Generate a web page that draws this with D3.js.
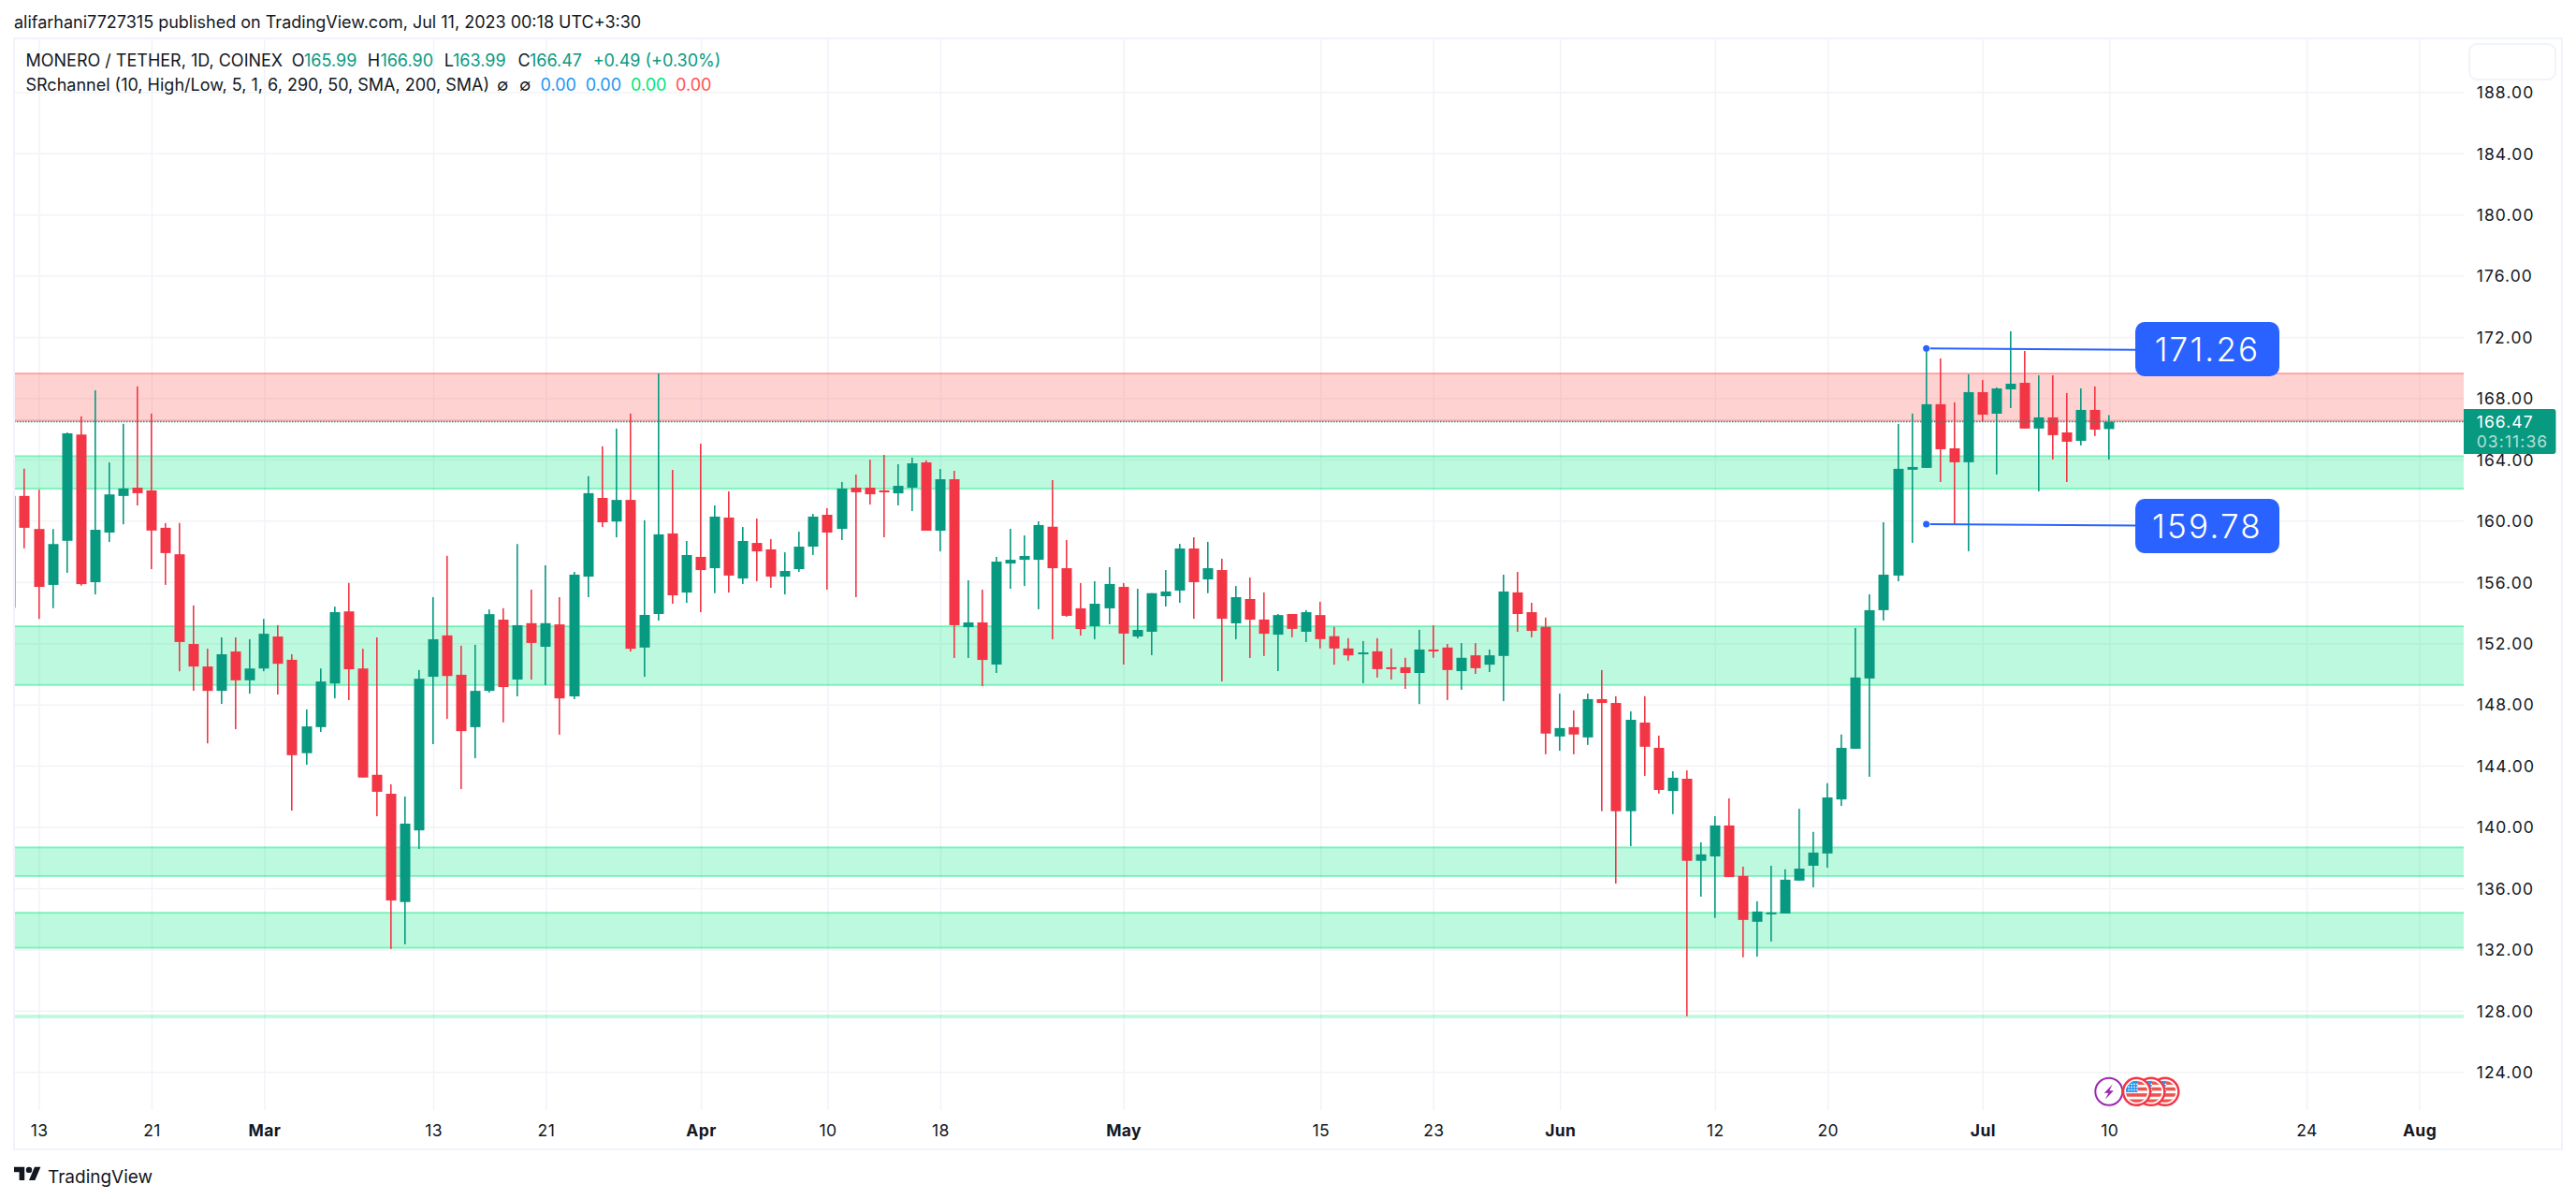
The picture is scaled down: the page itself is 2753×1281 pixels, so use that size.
<!DOCTYPE html>
<html>
<head>
<meta charset="utf-8">
<style>
html, body { margin: 0; padding: 0; background: #fff; }
svg { display: block; font-family: Inter, "Noto Sans", sans-serif; }
text { fill: #131722; }
</style>
<script src="https://cdn.jsdelivr.net/npm/d3@7"></script>
</head>
<body>
<svg id="chart" width="2753" height="1281"></svg>
<script>
// daily candles, one row per month, starting from firstDay
const firstDay = "2023-02-11";

const opens = [
    154.31,161.62,159.46,155.81,158.69,165.63,155.99,159.23,161.62,162.16,161.98,159.54,157.81,151.95,150.48,148.89,151.46,149.58,
    150.35,152.44,150.92,144.82,146.52,149.37,154.08,150.35,143.41,142.17,135.10,139.78,149.81,152.51,149.94,146.52,148.89,153.54,149.63,153.31,151.77,153.23,148.53,156.35,161.49,159.95,161.36,151.72,153.91,159.17,155.31,
    157.64,156.90,160.21,156.23,158.55,158.13,156.35,156.84,158.31,160.39,159.47,162.16,162.16,161.98,161.79,162.16,163.81,159.35,162.71,153.05,153.36,150.61,157.21,157.45,157.45,159.61,156.90,154.28,153.11,154.28,
    155.68,152.44,152.75,155.07,155.44,158.19,156.17,156.78,153.30,154.89,153.55,152.56,153.91,152.75,153.84,152.46,151.66,151.28,151.47,150.43,150.43,150.06,151.59,151.72,150.18,151.21,150.60,151.17,155.32,154.03,153.07,
    145.91,146.52,145.85,148.35,148.10,141.03,146.82,145.17,142.35,143.15,137.79,138.08,140.10,136.80,133.81,134.35,134.35,136.50,137.47,138.27,141.80,145.11,149.70,154.16,156.42,163.33,163.45,167.61,164.73,163.82,
    168.40,166.99,168.58,169.01,166.02,166.75,165.77,165.22,167.24,165.99
];
const highs = [
    161.62,163.40,162.03,159.46,165.76,166.82,168.52,163.81,166.33,168.77,167.00,159.85,159.85,154.47,151.64,152.38,152.38,152.26,
    153.59,153.18,151.28,147.68,150.35,154.39,155.94,151.64,152.38,142.79,141.99,150.25,155.01,157.71,151.84,151.90,154.21,154.29,158.48,155.50,157.09,155.01,156.66,162.91,164.86,166.02,167.00,160.03,169.62,163.32,158.68,
    165.03,161.00,161.92,159.59,160.14,158.80,157.94,159.29,160.45,160.82,162.53,163.02,163.99,164.30,163.69,164.12,163.94,163.38,163.26,156.11,155.50,157.64,159.47,159.04,159.96,162.65,158.74,155.93,156.05,156.97,
    155.93,155.56,155.27,156.78,158.49,158.92,158.62,157.52,155.74,156.29,155.32,153.91,153.91,154.16,154.71,153.07,152.33,152.14,152.33,151.66,151.05,152.88,153.17,151.95,152.01,152.01,151.59,156.48,156.66,154.64,153.68,
    148.71,147.61,148.71,150.25,148.54,147.55,148.54,145.97,143.64,143.70,139.00,140.71,141.87,137.41,135.15,137.47,137.24,141.19,139.68,142.86,146.04,153.00,155.20,159.90,166.32,167.00,171.27,170.60,167.73,169.56,
    169.19,168.71,172.37,171.09,169.50,169.50,168.34,168.64,168.77,166.90
];
const lows = [
    154.31,158.20,153.59,154.29,156.60,155.76,155.19,158.61,159.77,161.00,156.84,155.81,150.17,148.89,145.46,148.04,146.39,148.71,
    150.17,148.65,141.07,144.07,146.21,148.40,148.29,143.23,140.70,132.03,132.34,138.57,145.41,147.06,142.48,144.49,148.78,146.83,148.53,149.63,149.27,146.03,148.35,155.01,159.59,158.92,151.46,149.81,153.48,154.58,154.64,
    154.03,155.27,155.31,155.87,156.05,155.62,155.19,156.66,157.76,155.50,158.74,155.01,161.06,158.92,161.00,160.63,159.35,158.00,151.04,151.04,149.20,150.06,155.56,155.74,154.22,152.26,153.73,152.50,152.26,153.24,
    150.61,152.32,151.22,154.40,154.64,153.60,155.27,149.51,152.26,151.04,151.17,150.18,152.39,152.08,151.66,150.60,150.86,149.38,149.76,149.63,149.02,148.03,151.05,148.29,148.96,150.00,150.12,148.22,152.75,152.39,144.75,
    144.98,144.75,145.36,141.03,136.31,138.75,143.34,142.18,140.84,127.64,135.45,134.06,136.73,131.49,131.53,132.52,134.35,136.50,136.06,137.34,141.38,145.11,143.28,153.49,156.05,158.56,163.45,162.53,159.78,158.01,
    166.49,163.02,167.36,166.02,161.92,164.00,162.53,164.92,165.53,163.99
];
const closes = [
    161.62,159.54,155.68,158.48,165.71,155.86,159.41,161.72,162.11,161.80,159.36,157.89,152.08,150.48,148.89,151.28,149.58,150.35,
    152.62,150.66,144.69,146.57,149.50,154.03,150.30,143.23,142.30,135.20,140.22,149.68,152.26,149.86,146.26,148.89,153.90,149.14,153.18,152.02,153.31,148.40,156.48,161.80,159.90,161.36,151.64,153.85,159.11,155.13,157.76,
    156.78,160.27,156.42,158.68,158.00,156.35,156.72,158.31,160.27,159.23,162.10,161.86,161.73,161.86,162.28,163.75,159.35,162.71,153.18,153.36,150.91,157.33,157.45,157.70,159.72,156.90,153.79,152.93,154.58,155.87,
    152.63,152.87,155.27,155.38,158.19,155.99,156.90,153.60,155.01,153.54,152.62,153.84,152.94,154.03,152.27,151.66,151.21,151.40,150.31,150.31,150.06,151.59,151.53,150.25,151.05,150.37,151.21,155.38,153.91,152.81,146.10,
    146.46,146.04,148.35,148.10,141.03,147.00,145.24,142.42,143.22,137.79,138.21,140.10,136.73,133.93,134.48,134.42,136.56,137.28,138.33,141.93,145.17,149.76,154.16,156.48,163.39,163.51,167.61,164.67,163.82,168.40,
    166.93,168.64,168.95,166.02,166.75,165.59,165.16,167.24,165.95,166.47
];

// SR channel boxes
const zoneTops = [169.62, 164.22, 153.11, 138.67, 134.40, 127.74];
const zoneBottoms = [166.53, 162.09, 149.27, 136.79, 132.11, 127.51];
const zoneKinds = ["res", "sup", "sup", "sup", "sup", "thin"];

const priceTicks = d3.range(124, 189, 4);
const timeTickDates = ["2023-02-13","2023-02-21","2023-03-01","2023-03-13","2023-03-21","2023-04-01","2023-04-10","2023-04-18","2023-05-01","2023-05-15","2023-05-23","2023-06-01","2023-06-12","2023-06-20","2023-07-01","2023-07-10","2023-07-24","2023-08-01"];
const timeTickLabels = ["13","21","Mar","13","21","Apr","10","18","May","15","23","Jun","12","20","Jul","10","24","Aug"];

const lastPrice = 166.47;
const calloutDay = "2023-06-27";
const calloutPrices = [171.26, 159.78];

const upColor = "#089981", downColor = "#f23645", tvBlue = "#2962ff";
const supportColor = "#00e67f", resistColor = "#ff5252";

var frame = { left: 15, top: 41, right: 2738, bottom: 1228 };
var plotRight = 2633, plotBottom = 1186;

var svg = d3.select("svg#chart");

var parseDay = d3.utcParse("%Y-%m-%d");

var x = d3.scaleUtc()
    .domain([parseDay("2023-02-13"), parseDay("2023-08-01")])
    .range([41.5, 2585.5]);

var y = d3.scaleLinear()
    .domain([124, 188])
    .range([1145.3, 98.3]);

var days = opens.map((d, i) => d3.utcDay.offset(parseDay(firstDay), i));

function translate(x, y) {
    return "translate(" + String(x) + "," + String(y) + ")";
}

svg.append("clipPath").attr("id", "plot-clip")
    .append("rect")
    .attr("x", frame.left).attr("y", frame.top)
    .attr("width", plotRight - frame.left).attr("height", plotBottom - frame.top);

// grid
var timeAxis = d3.axisBottom(x)
    .tickValues(timeTickDates.map(parseDay))
    .tickSize(0)
    .tickPadding(0)
    .tickFormat((d, i) => timeTickLabels[i]);

var priceAxis = d3.axisRight(y)
    .tickValues(priceTicks)
    .tickSize(0)
    .tickPadding(0)
    .tickFormat(d3.format(".2f"));

var grid = svg.append("g").attr("clip-path", "url(#plot-clip)");

grid.append("g")
    .attr("transform", translate(0, frame.top))
    .call(d3.axisBottom(x).tickValues(timeTickDates.map(parseDay)).tickSize(plotBottom - frame.top).tickFormat(""))
    .call(g => g.select(".domain").remove())
    .call(g => g.selectAll("line").attr("stroke", "#f0f3fa").attr("stroke-width", 1.5));

grid.append("g")
    .attr("transform", translate(plotRight, 0))
    .call(d3.axisLeft(y).tickValues(priceTicks).tickSize(plotRight - frame.left).tickFormat(""))
    .call(g => g.select(".domain").remove())
    .call(g => g.selectAll("line").attr("stroke", "#f2f3f5").attr("stroke-width", 1.5));

// SR zones
var zoneLayer = svg.append("g").attr("clip-path", "url(#plot-clip)");
zoneLayer.selectAll("rect")
    .data(zoneTops)
    .enter()
    .append("rect")
    .attr("x", frame.left - 4)
    .attr("width", plotRight - frame.left + 8)
    .attr("y", d => y(d))
    .attr("height", (d, i) => y(zoneBottoms[i]) - y(d))
    .attr("fill", (d, i) => zoneKinds[i] == "res" ? resistColor : supportColor)
    .attr("fill-opacity", .26)
    .attr("stroke", (d, i) => zoneKinds[i] == "res" ? resistColor : supportColor)
    .attr("stroke-opacity", (d, i) => zoneKinds[i] == "thin" ? 0 : .42)
    .attr("stroke-width", 2);

// candles
var candleLayer = svg.append("g").attr("clip-path", "url(#plot-clip)");
var candle = candleLayer.selectAll("g.candle")
    .data(days)
    .enter()
    .append("g")
    .attr("class", "candle")
    .attr("fill", (d, i) => closes[i] >= opens[i] ? upColor : downColor);

candle.append("rect")
    .attr("x", d => Math.round(x(d)) - 1)
    .attr("width", 1.6)
    .attr("y", (d, i) => y(highs[i]))
    .attr("height", (d, i) => y(lows[i]) - y(highs[i]));

candle.append("rect")
    .attr("x", d => Math.round(x(d)) - 5.5)
    .attr("width", 11)
    .attr("y", (d, i) => y(Math.max(opens[i], closes[i])))
    .attr("height", (d, i) => Math.max(2, Math.abs(y(opens[i]) - y(closes[i]))));

// last price line
svg.append("line")
    .attr("x1", frame.left).attr("x2", plotRight)
    .attr("y1", y(lastPrice)).attr("y2", y(lastPrice))
    .attr("stroke", upColor)
    .attr("stroke-width", 1.5)
    .attr("stroke-dasharray", "1.5 1.5");

// frame
svg.append("rect")
    .attr("x", frame.left).attr("y", frame.top)
    .attr("width", frame.right - frame.left).attr("height", frame.bottom - frame.top)
    .attr("fill", "none")
    .attr("stroke", "#f0f3fa")
    .attr("stroke-width", 2);

// axes
svg.append("g")
    .attr("transform", translate(0, 1207.7))
    .call(timeAxis)
    .call(g => g.select(".domain").remove())
    .call(g => g.selectAll("line").remove())
    .call(g => g.selectAll("text")
        .attr("y", 0).attr("dy", ".36em")
        .style("font-family", "Inter")
        .style("font-size", "17.5px")
        .style("letter-spacing", ".4px")
        .style("font-weight", (d, i) => /[a-z]/.test(timeTickLabels[i]) ? 700 : 400));

svg.append("g")
    .attr("transform", translate(2646.7, 0))
    .call(priceAxis)
    .call(g => g.select(".domain").remove())
    .call(g => g.selectAll("line").remove())
    .call(g => g.selectAll("text")
        .attr("x", 0).attr("dy", ".36em")
        .attr("text-anchor", "start")
        .style("font-family", "Inter")
        .style("font-size", "17.5px")
        .style("letter-spacing", "1.1px"));

// scale button top right
svg.append("rect")
    .attr("x", 2639).attr("y", 47)
    .attr("width", 92).attr("height", 38).attr("rx", 8)
    .attr("fill", "#fff")
    .attr("stroke", "#f0f3fa")
    .attr("stroke-width", 2);

// last price tag
var tag = svg.append("g").attr("transform", translate(plotRight, 437));
tag.append("path")
    .attr("d", "M0,0H95.5a3,3 0 0 1 3,3V45a3,3 0 0 1 -3,3H0Z")
    .attr("fill", upColor);
tag.append("text")
    .attr("x", 13.7).attr("y", 13.7).attr("dy", ".36em")
    .style("fill", "#fff")
    .style("font-size", "17.5px")
    .style("letter-spacing", "1.1px")
    .text(d3.format(".2f")(lastPrice));
tag.append("text")
    .attr("x", 13.7).attr("y", 34.7).attr("dy", ".36em")
    .style("fill", "rgba(255,255,255,.7)")
    .style("font-size", "17.5px")
    .style("letter-spacing", "1.1px")
    .text("03:11:36");

// callouts
var callout = svg.selectAll("g.callout")
    .data(calloutPrices)
    .enter()
    .append("g")
    .attr("class", "callout");

callout.append("line")
    .attr("x1", x(parseDay(calloutDay)) + 4)
    .attr("x2", 2285)
    .attr("y1", d => y(d))
    .attr("y2", d => y(d) + 1.5)
    .attr("stroke", tvBlue)
    .attr("stroke-width", 2);

callout.append("circle")
    .attr("cx", x(parseDay(calloutDay)))
    .attr("cy", d => y(d))
    .attr("r", 3.5)
    .attr("fill", tvBlue);

callout.append("rect")
    .attr("x", 2282)
    .attr("y", (d, i) => y(d) - 28.2 + i * 1.2)
    .attr("width", 154)
    .attr("height", 58)
    .attr("rx", 10)
    .attr("fill", tvBlue);

callout.append("text")
    .attr("x", 2359)
    .attr("y", (d, i) => y(d) + 1.5 + i * 1.2)
    .attr("dy", ".36em")
    .attr("text-anchor", "middle")
    .style("fill", "#fff")
    .style("font-size", "35px")
    .style("font-weight", 300)
    .style("letter-spacing", "2.2px")
    .text(d => d3.format(".2f")(d));

// event icons, back to front
var flagX = [2313.8, 2298.8, 2283.5];
var stripes = [0, 1, 2, 3];
var dots = d3.range(12);

var icons = svg.append("g").attr("transform", translate(0, 1166.3));

var bolt = icons.append("g").attr("transform", translate(2253.8, 0));
bolt.append("circle").attr("r", 14.5).attr("fill", "#fff").attr("stroke", "#9c27b0").attr("stroke-width", 2);
bolt.append("path").attr("d", "M4,-8 L-5,1.5 H-0.5 L-4,8.5 L5,-1 H0.5 Z").attr("fill", "#9c27b0");

flagX.forEach(function(fx, n) {
    let icon = icons.append("g").attr("transform", translate(fx, 0));
    icon.append("circle").attr("r", 14.5).attr("fill", "#fff").attr("stroke", "#f23645").attr("stroke-width", 2.5);
    svg.append("clipPath").attr("id", "flag-" + n).append("circle").attr("r", 11.5);
    let flag = icon.append("g").attr("clip-path", "url(#flag-" + n + ")");
    flag.selectAll("rect.stripe")
        .data(stripes)
        .enter()
        .append("rect")
        .attr("class", "stripe")
        .attr("x", -12)
        .attr("y", d => -11 + d * 6.4)
        .attr("width", 24)
        .attr("height", 3.6)
        .attr("fill", "#ef5350");
    flag.append("rect").attr("x", -12).attr("y", -12).attr("width", 13).attr("height", 12.5).attr("fill", "#2196f3");
    flag.selectAll("circle.star")
        .data(dots)
        .enter()
        .append("circle")
        .attr("class", "star")
        .attr("cx", d => -8.5 + (d % 4) * 3)
        .attr("cy", d => -8 + Math.floor(d / 4) * 3)
        .attr("r", .9)
        .attr("fill", "#fff");
});

// header and legend
var header = svg.append("g");

function addText(px, py, str, color, size) {
    return header.append("text")
        .attr("x", px).attr("y", py).attr("dy", ".36em")
        .style("fill", color || "#131722")
        .style("font-size", (size || 18) + "px")
        .text(str);
}

addText(15, 24, "alifarhani7727315 published on TradingView.com, Jul 11, 2023 00:18 UTC+3:30");

addText(27.5, 65, "MONERO / TETHER, 1D, COINEX");
addText(311.7, 65, "O");
addText(325, 65, "165.99", upColor);
addText(392.7, 65, "H");
addText(406.4, 65, "166.90", upColor);
addText(474.7, 65, "L");
addText(484, 65, "163.99", upColor);
addText(553.4, 65, "C");
addText(566, 65, "166.47", upColor);
addText(633.7, 65, "+0.49 (+0.30%)", upColor);

addText(27.5, 90.7, "SRchannel (10, High/Low, 5, 1, 6, 290, 50, SMA, 200, SMA)");
addText(531, 90.7, "∅");
addText(555, 90.7, "∅");
addText(577.5, 90.7, "0.00", "#2196f3");
addText(625.7, 90.7, "0.00", "#2196f3");
addText(674, 90.7, "0.00", "#00e676");
addText(722, 90.7, "0.00", "#ff5252");

// tradingview logo
var logo = svg.append("g").attr("transform", translate(15, 1243.5) + " scale(.8)");
logo.append("path").attr("d", "M14 22H7V11H0V4h14v18zM28 22h-8l7.5-18h8L28 22z").attr("fill", "#131722");
logo.append("circle").attr("cx", 20).attr("cy", 8).attr("r", 4).attr("fill", "#131722");

svg.append("text")
    .attr("x", 51).attr("y", 1256.7).attr("dy", ".36em")
    .style("font-size", "19px")
    .text("TradingView");
</script>
</body>
</html>
